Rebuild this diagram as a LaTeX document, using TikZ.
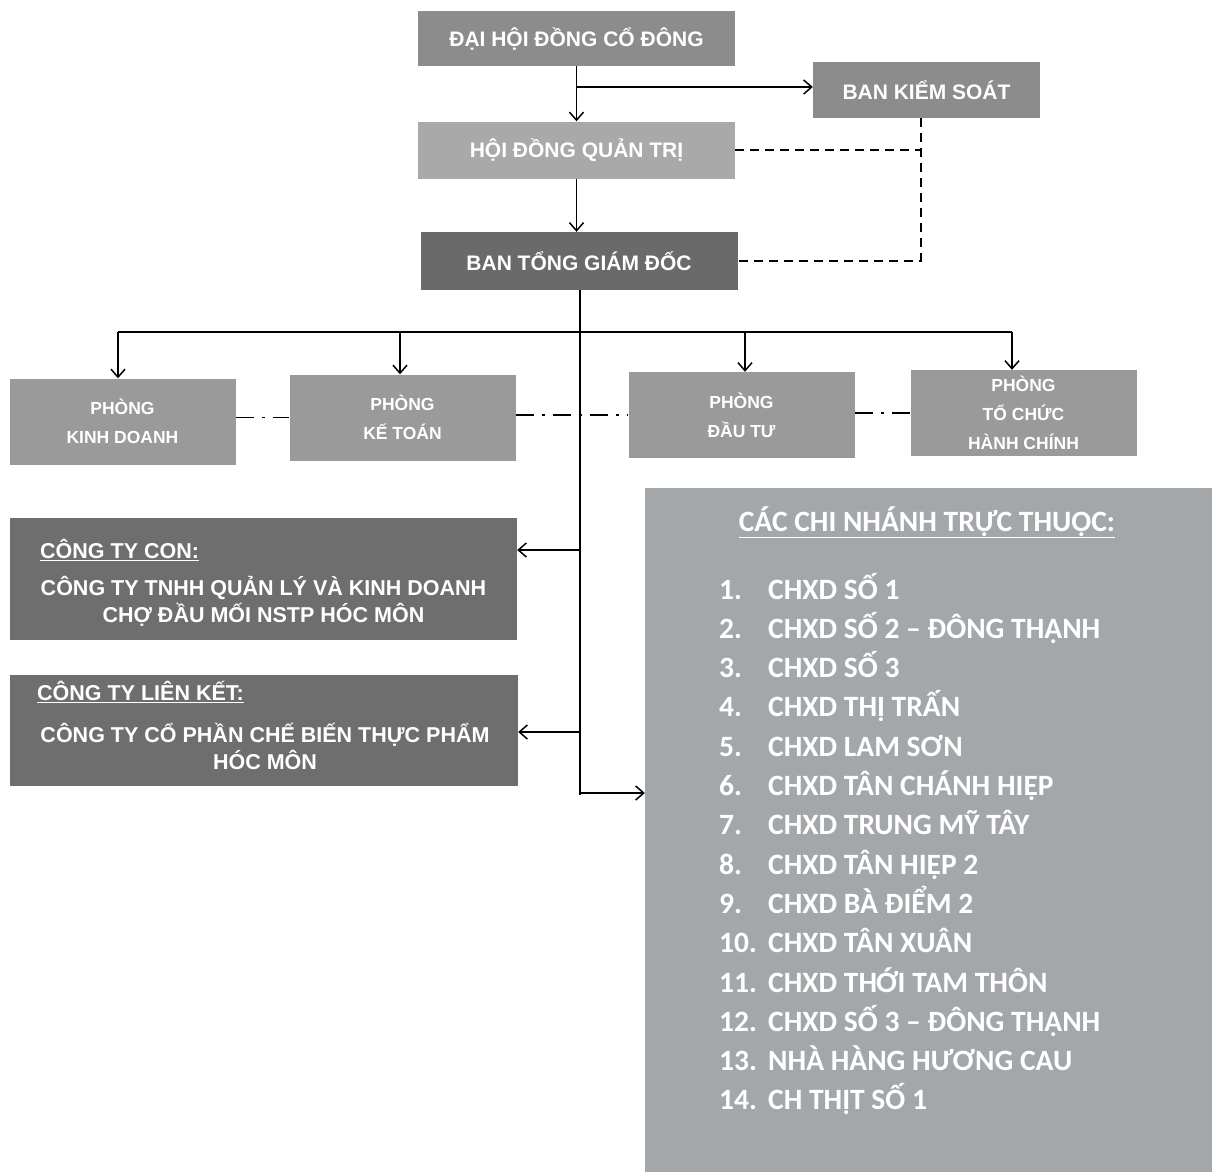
\documentclass[tikz,border=0pt]{standalone}
\usepackage{fontspec}
\setmainfont{Liberation Sans}
\newfontfamily\calib{Carlito}
\usetikzlibrary{arrows.meta,calc}
\definecolor{gTop}{HTML}{8C8C8C}
\definecolor{gHdqt}{HTML}{A9A9A9}
\definecolor{gDark}{HTML}{6A6A6A}
\definecolor{gDept}{HTML}{9A9A9A}
\definecolor{gCo}{HTML}{6E6E6E}
\definecolor{gList}{HTML}{A4A7AA}
\begin{document}
\begin{tikzpicture}[x=1pt,y=-1pt,
  box/.style={fill=#1, draw=none, text=white, align=center, inner sep=0pt,
     font=\bfseries\fontsize{21}{24}\selectfont},
  deptbox/.style={box=gDept, minimum width=226pt, minimum height=86pt,
     font=\bfseries\fontsize{17.5}{29}\selectfont},
  line/.style={draw=black, line width=1.7pt},
  arr/.style={line, -{Straight Barb[length=8pt,width=14pt,line width=1.5pt]}},
  dsh/.style={line, line width=2pt, dash pattern=on 9pt off 6pt},
  dashdot/.style={line, dash pattern=on 18pt off 8pt on 3pt off 8pt},
  cotxt/.style={text=white, inner sep=0pt, font=\bfseries\fontsize{21.5}{27}\selectfont},
  listtxt/.style={text=white, inner sep=0pt, anchor=base west, font=\calib\bfseries\fontsize{29.5}{34}\selectfont}
]
\useasboundingbox (0,0) rectangle (1214,1172);
\fill[white] (0,0) rectangle (1214,1172);

% top hierarchy
\node[box=gTop, minimum width=317pt, minimum height=55pt] (dh) at (576.5,38.5) {ĐẠI HỘI ĐỒNG CỔ ĐÔNG};
\node[box=gTop, minimum width=227pt, minimum height=56pt] (bks) at (926.5,90) {BAN KIỂM SOÁT};
\node[box=gHdqt, minimum width=317pt, minimum height=57pt] (hdqt) at (576.5,150) {HỘI ĐỒNG QUẢN TRỊ};
\node[box=gDark, minimum width=317pt, minimum height=58pt] (btgd) at (579,261) {BAN TỔNG GIÁM ĐỐC};

% departments
\node[deptbox] (pkd) at (122.5,421.5) {PHÒNG\\KINH DOANH};
\node[deptbox] (pkt) at (402.5,417.5) {PHÒNG\\KẾ TOÁN};
\node[deptbox] (pdt) at (741.5,415) {PHÒNG\\ĐẦU TƯ};
\node[deptbox] (ptc) at (1023.5,413) {PHÒNG\\TỔ CHỨC\\HÀNH CHÍNH};

% companies
\node[box=gCo, minimum width=507pt, minimum height=122pt] (ctc) at (263.5,579) {};
\node[cotxt, anchor=west] (ctch) at (40,550) {\underline{CÔNG TY CON:}};
\node[cotxt, align=center] (ctcb) at (263.5,601) {CÔNG TY TNHH QUẢN LÝ VÀ KINH DOANH\\CHỢ ĐẦU MỐI NSTP HÓC MÔN};

\node[box=gCo, minimum width=508pt, minimum height=111pt] (ctlk) at (264,730.5) {};
\node[cotxt, anchor=west] (ctlkh) at (37,692) {\underline{CÔNG TY LIÊN KẾT:}};
\node[cotxt, align=center] (ctlkb) at (265,746) {CÔNG TY CỔ PHẦN CHẾ BIẾN THỰC PHẨM\\HÓC MÔN};

% branch list
\node[box=gList, minimum width=567pt, minimum height=684pt] (ds) at (928.5,830) {};
\node[text=white, inner sep=0pt, anchor=base, font=\calib\bfseries\fontsize{29.5}{34}\selectfont] (dshead) at (927,531) {\underline{CÁC CHI NHÁNH TRỰC THUỘC:}};
\foreach \i/\t [count=\k from 0] in {1./CHXD SỐ 1, 2./CHXD SỐ 2 – ĐÔNG THẠNH, 3./CHXD SỐ 3, 4./CHXD THỊ TRẤN, 5./CHXD LAM SƠN, 6./CHXD TÂN CHÁNH HIỆP, 7./CHXD TRUNG MỸ TÂY, 8./CHXD TÂN HIỆP 2, 9./CHXD BÀ ĐIỂM 2, 10./CHXD TÂN XUÂN, 11./CHXD THỚI TAM THÔN, 12./CHXD SỐ 3 – ĐÔNG THẠNH, 13./NHÀ HÀNG HƯƠNG CAU, 14./CH THỊT SỐ 1}{
  \node[listtxt] (it\k) at (719,{599+39.3*\k}) {\makebox[49pt][l]{\i}\t};
}

% connectors
\draw[arr] (dh.south) -- (hdqt.north);
\coordinate (b1) at (576.5,87);
\draw[arr] (b1) -- (b1 -| bks.west);
\draw[arr] (hdqt.south) -- (hdqt.south |- btgd.north);
\coordinate (bk) at ($(bks.south)+(-6,0)$);
\draw[dsh] (hdqt.east) -- (hdqt.east -| bk);
\draw[dsh] (bk) -- (bk |- btgd.east) -- (btgd.east);

\coordinate (trunkEnd) at (580,795);
\draw[line] (btgd.south -| trunkEnd) -- (trunkEnd);
\coordinate (bus1) at (118,332);
\coordinate (bus2) at (400,332);
\coordinate (bus3) at (745,332);
\coordinate (bus4) at (1012,332);
\draw[line] (bus1) -- (bus4);
\draw[arr] (bus1) -- (bus1 |- pkd.north);
\draw[arr] (bus2) -- (bus2 |- pkt.north);
\draw[arr] (bus3) -- (bus3 |- pdt.north);
\draw[arr] (bus4) -- (bus4 |- ptc.north);

\coordinate (j1) at (580,550);
\coordinate (j2) at (580,732);
\coordinate (j3) at (580,793);
\draw[arr] (j1) -- (j1 -| ctc.east);
\draw[arr] (j2) -- (j2 -| ctlk.east);
\draw[arr] (j3) -- (j3 -| ds.west);

\draw[dashdot] (pkt.west -| pkd.east) -- (pkt.west);
\draw[dashdot] (pdt.west -| pkt.east) -- (pdt.west);
\draw[dashdot] (ptc.west -| pdt.east) -- (ptc.west);
\end{tikzpicture}
\end{document}
